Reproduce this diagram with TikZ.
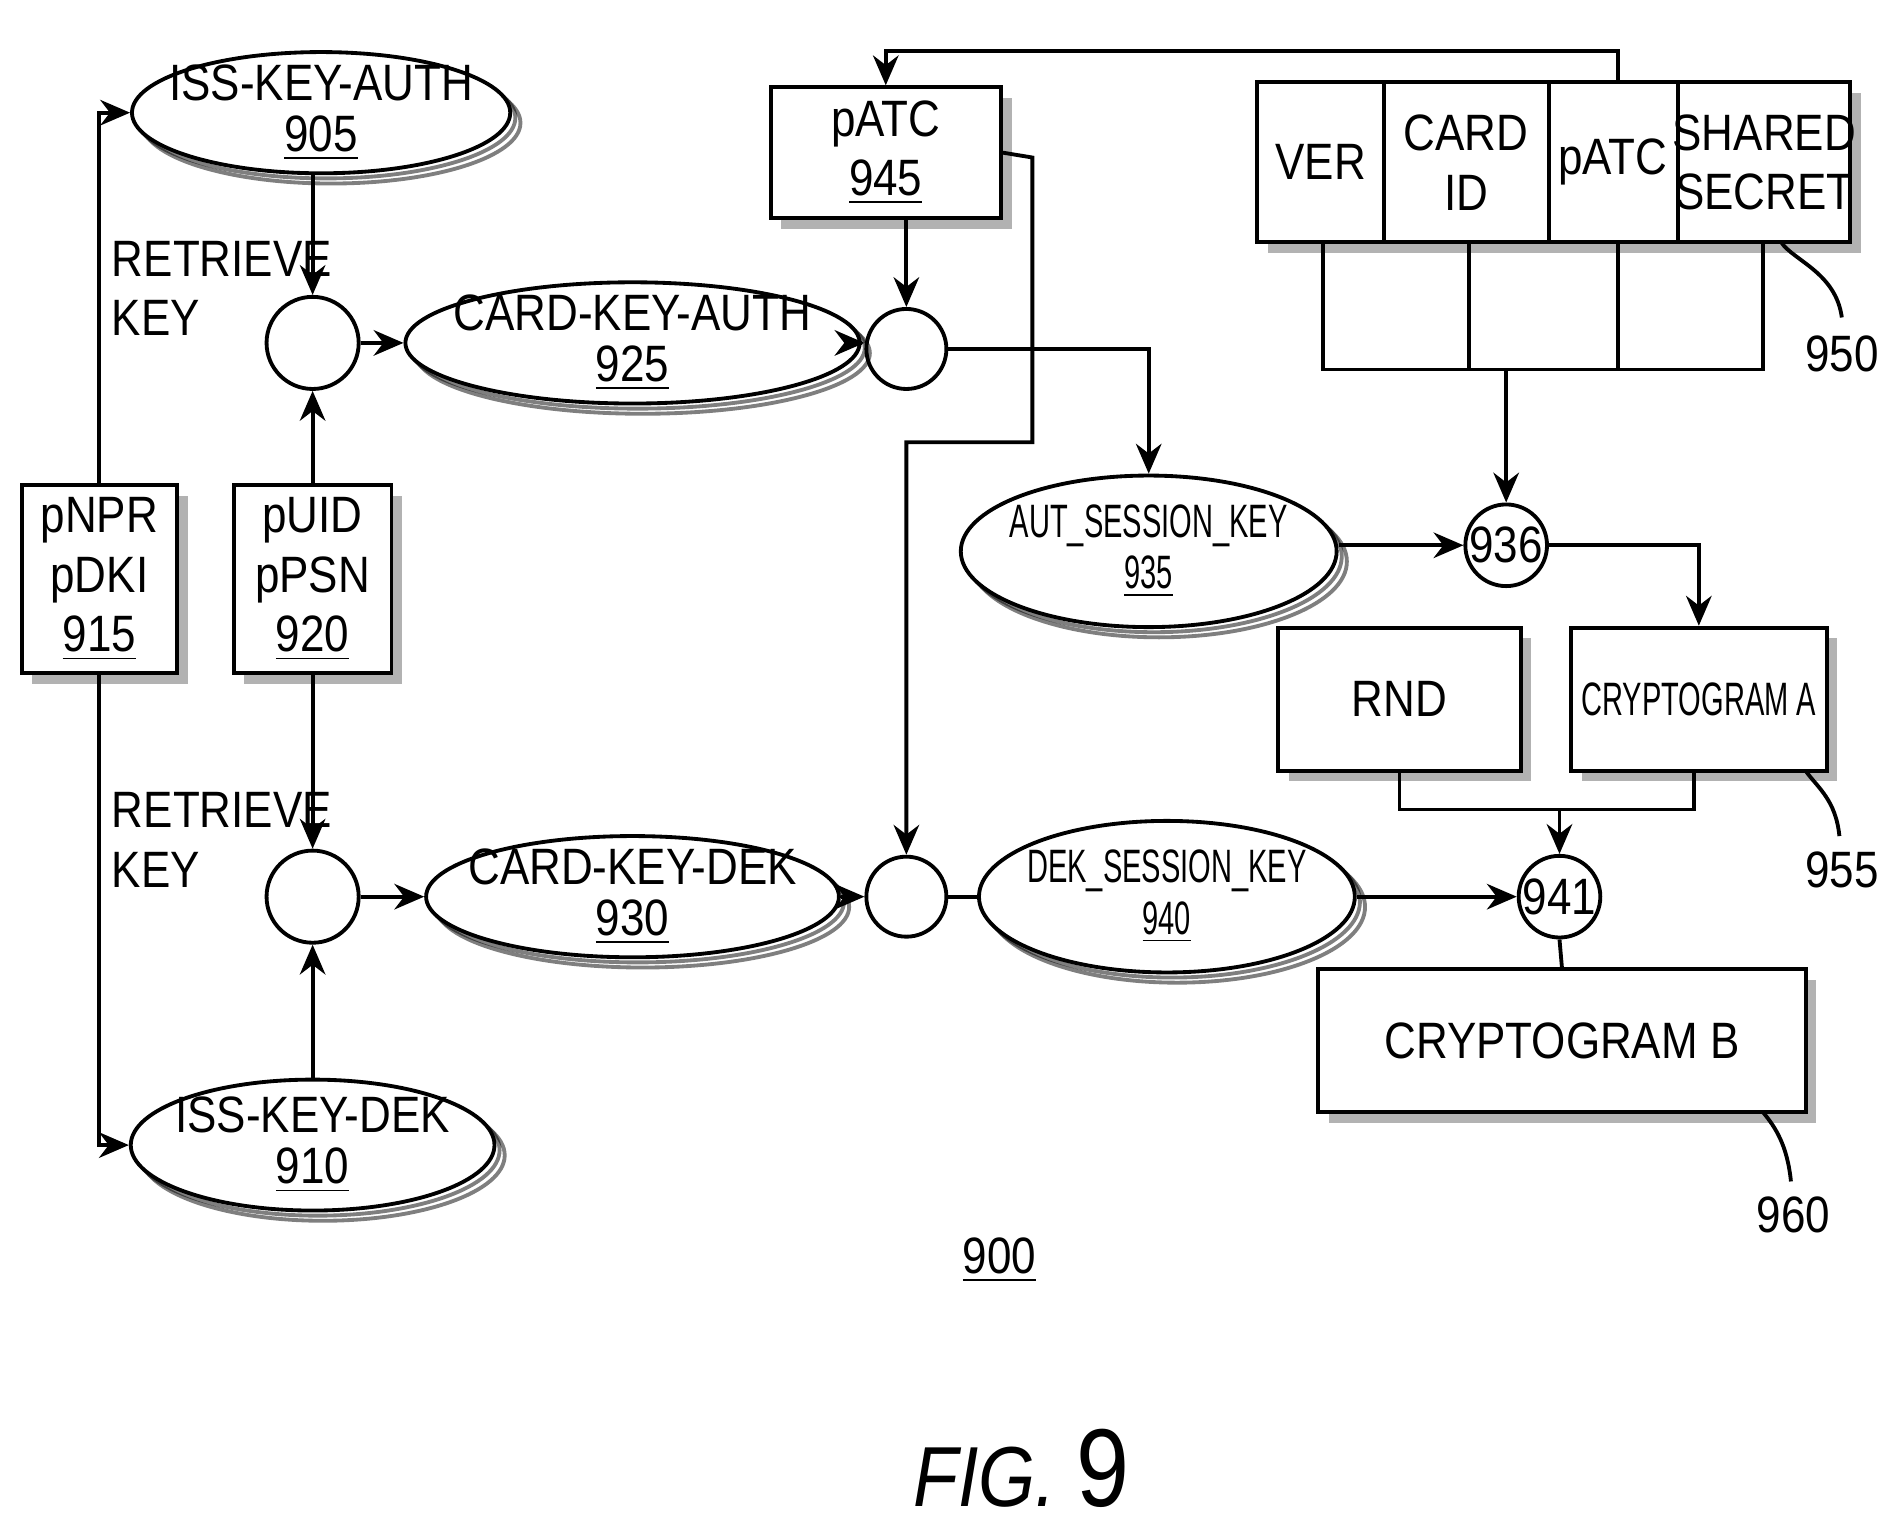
\documentclass[tikz,border=0pt]{standalone}
\usepackage{fontspec}
\setmainfont{Liberation Sans}[FakeStretch=0.86]
\newfontfamily\narrowsf{Liberation Sans}[FakeStretch=0.62]
\usetikzlibrary{shapes.geometric,arrows.meta,shadows}
\tikzset{
  line/.style={line width=0.9pt},
  arr/.style={line, -{Stealth[length=7pt,width=6pt]}},
  oval/.style={ellipse, draw, line width=0.9pt, fill=white, align=center, inner xsep=-0.15cm, inner ysep=-0.12cm,
    double copy shadow={shadow xshift=1.2pt, shadow yshift=-1.2pt, opacity=.5}},
  blk/.style={rectangle, draw, line width=0.9pt, fill=white, align=center, inner sep=0pt,
    drop shadow={shadow xshift=2.5pt, shadow yshift=-2.5pt, fill=gray!60, opacity=1}},
  dot/.style={circle, draw, line width=0.9pt, minimum size=#1, inner sep=0pt},
  txt/.style={font=\fontsize{12}{14}\selectfont},
  small/.style={font=\narrowsf\fontsize{11}{13}\selectfont},
}
\begin{document}
\begin{tikzpicture}[x=0.01cm,y=-0.01cm,txt]
        \useasboundingbox (0,0) rectangle (1568,1270);
        % ovals
        \node[oval,minimum width=3.1cm,minimum height=1.0cm] (k905) at (265,93) {ISS-KEY-AUTH\\[-2pt]\underline{905}};
        \node[oval,minimum width=3.0cm,minimum height=1.08cm] (k910) at (258,945) {ISS-KEY-DEK\\[-2pt]\underline{910}};
        \node[oval,minimum width=3.0cm,minimum height=1.0cm] (k925) at (522,283) {CARD-KEY-AUTH\\[-2pt]\underline{925}};
        \node[oval,minimum width=3.0cm,minimum height=1.0cm] (k930) at (522,740) {CARD-KEY-DEK\\[-2pt]\underline{930}};
        \node[oval,small,minimum width=3.1cm,minimum height=1.25cm] (k935) at (948,455) {AUT\_SESSION\_KEY\\[-1pt]\underline{935}};
        \node[oval,small,minimum width=3.1cm,minimum height=1.25cm] (k940) at (963,740) {DEK\_SESSION\_KEY\\[-1pt]\underline{940}};
        % circles
        \node[dot=0.76cm] (c1) at (258,283) {};
        \node[dot=0.76cm] (c2) at (258,740) {};
        \node[dot=0.66cm] (c3) at (748,288) {};
        \node[dot=0.66cm] (c4) at (748,740) {};
        \node[dot=0.66cm] (c936) at (1243,450) {936};
        \node[dot=0.66cm] (c941) at (1287,740) {941};
        % boxes
        \node[blk,minimum width=1.28cm,minimum height=1.55cm] (b915) at (82,478) {pNPR\\pDKI\\\underline{915}};
        \node[blk,minimum width=1.3cm,minimum height=1.55cm] (b920) at (258,478) {pUID\\pPSN\\\underline{920}};
        \node[blk,minimum width=1.9cm,minimum height=1.08cm] (b945) at (731,126) {pATC\\\underline{945}};
        \node[blk,minimum width=2.0cm,minimum height=1.18cm] (rnd) at (1155,577) {RND};
        \node[blk,small,minimum width=2.11cm,minimum height=1.18cm] (cra) at (1402,577) {CRYPTOGRAM A};
        \node[blk,minimum width=4.02cm,minimum height=1.18cm] (crb) at (1289,859) {CRYPTOGRAM B};
        % table 950
        \node[blk,minimum width=4.89cm,minimum height=1.32cm] (t950) at (1282,134) {};
        \draw[line] (1142,68) -- (1142,200) (1278,68) -- (1278,200) (1385,68) -- (1385,200);
        \node at (1090,134) {VER};
        \node[align=center] at (1210,134) {CARD\\ID};
        \node at (1331,134) {pATC};
        \node[align=center] at (1456,134) {SHARED\\SECRET};
        \draw[line] (1092,200) rectangle (1455,305);
        \draw[line] (1212,200) -- (1212,305) (1335,200) -- (1335,305);
        % labels
        \node[anchor=west,align=left] at (80,238) {RETRIEVE\\KEY};
        \node[anchor=west,align=left] at (80,693) {RETRIEVE\\KEY};
        \node at (1520,292) {950};
        \node at (1520,718) {955};
        \node at (1480,1003) {960};
        \draw[line] (1470,200) .. controls (1480,215) and (1515,225) .. (1520,262);
        \draw[line] (1490,636) .. controls (1500,650) and (1515,660) .. (1518,690);
        \draw[line] (1455,918) .. controls (1465,930) and (1475,945) .. (1478,975);
        \node at (825,1040) {\underline{900}};
        \node[font=\fontsize{20}{24}\selectfont\itshape] at (843,1212) {FIG. \upshape\fontsize{26}{28}\selectfont 9};
        % connectors
        \draw[arr] (b915.north) |- (k905.west);
        \draw[arr] (b915.south) |- (k910.west);
        \draw[arr] (c1 |- k905.south) -- (c1);
        \draw[arr] (b920.north) -- (c1);
        \draw[arr] (b920.south) -- (c2);
        \draw[arr] (c2 |- k910.north) -- (c2);
        \draw[arr] (c1) -- (k925);
        \draw[arr] (c2) -- (k930);
        \draw[arr] (k925.east) -- (c3.west |- k925.east);
        \draw[arr] (k930) -- (c4);
        \draw[arr] (c3 |- b945.south) -- (c3);
        \draw[arr] (b945.east) -- (852,130) -- (852,365) -| (c4.north);
        \draw[arr] (c3.east) -| (k935.north);
        \draw[arr] (1335,68) -- (1335,42) -| (b945.north);
        \draw[arr] (1243,305) -- (c936.north);
        \draw[arr] (k935.east |- c936.west) -- (c936.west);
        \draw[arr] (c936.east) -| (cra.north);
        \draw[line] (rnd.south) -- (1155,668) -- (1398,668) -- (1398,636);
        \draw[arr] (1287,668) -- (c941.north);
        \draw[line] (c4.east) -- (k940.west);
        \draw[arr] (k940.east) -- (c941.west);
        \draw[line] (c941.south) -- (crb.north);
\end{tikzpicture}
\end{document}
